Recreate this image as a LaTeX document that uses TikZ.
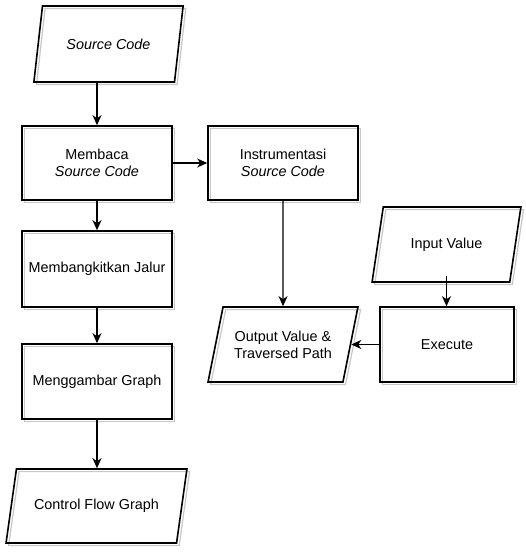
\documentclass[tikz,border=0pt]{standalone}
\usepackage{fontspec}
\setmainfont{Liberation Sans}
\usetikzlibrary{shapes.geometric,shadows,arrows.meta}
\begin{document}
\begin{tikzpicture}[x=1pt,y=-1pt,
  base/.style={draw=black, line width=1.6pt, align=center, text=black,
    font=\fontsize{14.4}{17.3}\selectfont, inner sep=2pt,
    copy shadow={shadow xshift=2.6pt, shadow yshift=-2.6pt, draw=black!22, line width=1.2pt, fill=none}},
  box/.style={base, rectangle, minimum width=150pt, minimum height=74pt},
  para/.style={base, trapezium, trapezium left angle=#1, trapezium right angle=180-#1,
    trapezium stretches=true, minimum height=75pt},
  arr/.style={line width=1.3pt, -{Stealth[length=10pt,width=9pt,inset=3pt]}}
]
\useasboundingbox (0,0) rectangle (526,556);

\node[para=68.5, minimum width=150pt, minimum height=76pt] (sc) at (108.5,44) {\itshape Source Code};
\node[box] (mb) at (97,163) {Membaca\\\itshape Source Code};
\node[box, minimum height=76pt] (mj) at (97,269) {Membangkitkan Jalur};
\node[box, minimum height=75pt] (mg) at (97,381.5) {Menggambar Graph};
\node[para=64.4, minimum width=181pt, minimum height=74pt] (cfg) at (96.5,506) {Control Flow Graph};
\node[box] (ins) at (283,163) {Instrumentasi\\\itshape Source Code};
\node[para=68.2, minimum width=150pt] (ov) at (283,344.5) {Output Value \&\\Traversed Path};
\node[para=69, minimum width=149pt] (iv) at (446.5,244.5) {Input Value};
\node[box, minimum width=134pt, minimum height=75pt] (ex) at (447,344.5) {Execute};

\draw[arr] (sc.south -| mb.north) -- (mb.north);
\draw[arr] (mb.east) -- (ins.west);
\draw[arr] (mb.south) -- (mj.north);
\draw[arr] (mj.south) -- (mg.north);
\draw[arr] (mg.south) -- (mg.south |- cfg.north);
\draw[arr] (ins.south) -- (ov.north);
\draw[arr] ([yshift=7pt]iv.south) -- (iv.south |- ex.north);
\draw[arr] (ex.west) -- (ex.west -| ov.east);
\end{tikzpicture}
\end{document}
